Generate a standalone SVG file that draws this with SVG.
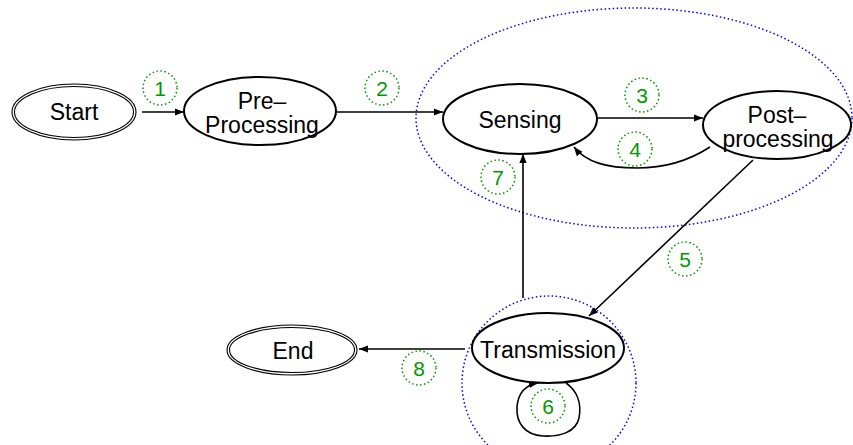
<svg xmlns="http://www.w3.org/2000/svg" width="853" height="445" viewBox="0 0 853 445">
<defs>
<marker id="arr" viewBox="0 0 10 10" refX="10" refY="5" markerWidth="9" markerHeight="9" markerUnits="userSpaceOnUse" orient="auto">
<path d="M0,1 L10,5 L0,9 Z" fill="#000"/>
</marker>
</defs>
<style>
.node{fill:#fff;stroke:#000;stroke-width:2}
.dbl{fill:none;stroke:#000;stroke-width:1.1}
.txt{font-family:"Liberation Sans",Arial,sans-serif;font-size:23px;fill:#000;text-anchor:middle}
.edge{fill:none;stroke:#000;stroke-width:1.6}
.grp{fill:none;stroke:#0000ff;stroke-width:1.5;stroke-dasharray:1.5 2.5}
.lbl{fill:none;stroke:#009900;stroke-width:1.5;stroke-dasharray:1.5 2.5}
.num{font-family:"Liberation Sans",Arial,sans-serif;font-size:21px;fill:#009900;text-anchor:middle}
</style>
<rect width="853" height="445" fill="#fff"/>
<g id="groups">
<ellipse class="grp" cx="634" cy="118" rx="218" ry="110"/>
<ellipse class="grp" cx="549" cy="383" rx="87" ry="87"/>
</g>
<g id="connectors">
<line class="edge" x1="142" y1="112" x2="184" y2="112" marker-end="url(#arr)"/>
<line class="edge" x1="337" y1="112" x2="443" y2="112" marker-end="url(#arr)"/>
<line class="edge" x1="596" y1="118" x2="703" y2="118" marker-end="url(#arr)"/>
<path class="edge" d="M710,147 C690,160 668,168 637,168 C606,168 586,162 574,147" marker-end="url(#arr)"/>
<line class="edge" x1="753" y1="160" x2="589" y2="316" marker-end="url(#arr)"/>
<line class="edge" x1="523" y1="298" x2="523" y2="154" marker-end="url(#arr)"/>
<line class="edge" x1="465" y1="349" x2="359" y2="349" marker-end="url(#arr)"/>
<path class="edge" d="M566,383 C576,390 582,402 579,418 C576,432 560,437 543,436 C525,435 516,423 517,407 C518,393 526,385 538,383" marker-end="url(#arr)"/>
</g>
<g id="start">
<ellipse class="dbl" cx="74" cy="112" rx="62" ry="28"/>
<ellipse class="dbl" cx="74" cy="112" rx="59.5" ry="25.5"/>
<text class="txt" x="74" y="120">Start</text>
</g>
<g id="preprocessing">
<ellipse class="node" cx="260" cy="111" rx="76" ry="34"/>
<text class="txt" x="262" y="109">Pre–</text>
<text class="txt" x="262" y="133">Processing</text>
</g>
<g id="sensing">
<ellipse class="node" cx="520" cy="119" rx="77" ry="35"/>
<text class="txt" x="520" y="128">Sensing</text>
</g>
<g id="postprocessing">
<ellipse class="node" cx="777" cy="125" rx="74" ry="34"/>
<text class="txt" x="777" y="123">Post–</text>
<text class="txt" x="778" y="147">processing</text>
</g>
<g id="transmission">
<ellipse class="node" cx="548" cy="348" rx="76" ry="35"/>
<text class="txt" x="548" y="358">Transmission</text>
</g>
<g id="end">
<ellipse class="dbl" cx="292" cy="350" rx="65" ry="25"/>
<ellipse class="dbl" cx="292" cy="350" rx="62.5" ry="22.5"/>
<text class="txt" x="293" y="359">End</text>
</g>
<g id="labels">
<circle class="lbl" cx="160" cy="88" r="17"/><text class="num" x="160" y="96">1</text>
<circle class="lbl" cx="382" cy="88" r="17"/><text class="num" x="382" y="96">2</text>
<circle class="lbl" cx="642" cy="95" r="17"/><text class="num" x="642" y="103">3</text>
<circle class="lbl" cx="635" cy="149" r="17"/><text class="num" x="635" y="157">4</text>
<circle class="lbl" cx="685" cy="259" r="17"/><text class="num" x="685" y="267">5</text>
<circle class="lbl" cx="548" cy="406" r="17"/><text class="num" x="548" y="414">6</text>
<circle class="lbl" cx="498" cy="177" r="17"/><text class="num" x="498" y="185">7</text>
<circle class="lbl" cx="419" cy="368" r="17"/><text class="num" x="419" y="376">8</text>
</g>
</svg>
